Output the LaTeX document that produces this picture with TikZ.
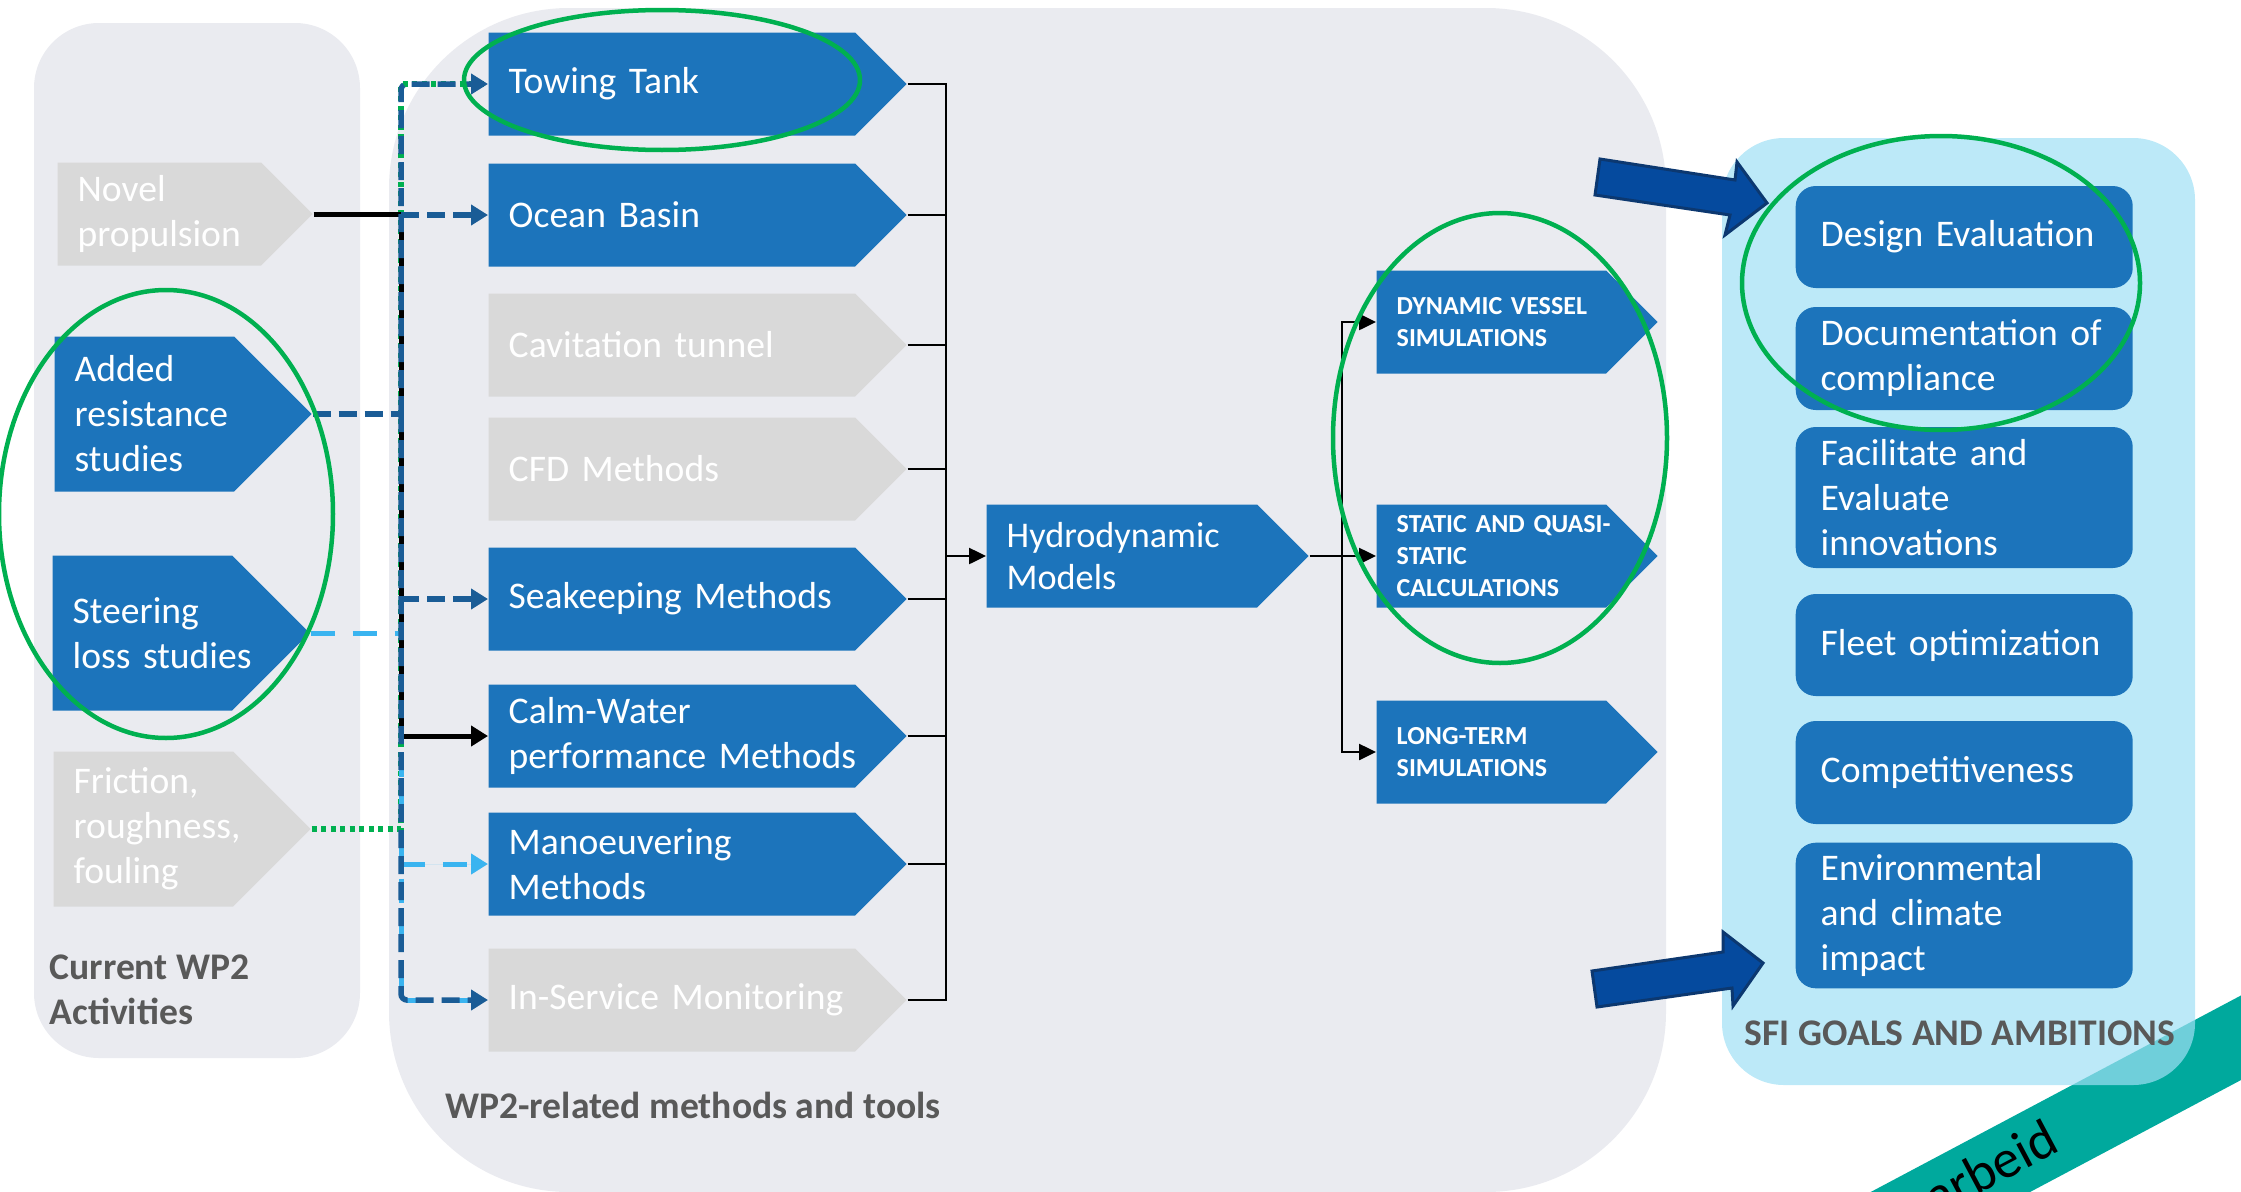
\documentclass[tikz,border=0pt]{standalone}
\usepackage{fontspec}
\setmainfont{Carlito}
\usetikzlibrary{arrows.meta,shapes.symbols,positioning}

\definecolor{boxblue}{RGB}{28,116,187}
\definecolor{boxgrey}{RGB}{217,217,217}
\definecolor{panelgrey}{RGB}{234,235,240}
\definecolor{goalpanel}{RGB}{159,224,245}
\definecolor{labelgrey}{RGB}{89,89,89}
\definecolor{ringgreen}{RGB}{0,176,80}
\definecolor{darkdash}{RGB}{26,92,150}
\definecolor{lightdash}{RGB}{58,180,240}
\definecolor{bigarrow}{RGB}{5,74,158}
\definecolor{bigarrowedge}{RGB}{12,56,112}
\definecolor{bandteal}{RGB}{0,169,157}

\hyphenpenalty=10000
\exhyphenpenalty=10000
\newcommand{\boxfont}{\fontsize{10.7}{12.8}\selectfont}
\newcommand{\hydfont}{\fontsize{10.3}{12.2}\selectfont}
\newcommand{\simfont}{\fontsize{7.4}{9}\selectfont\bfseries}

\begin{document}
\begin{tikzpicture}[x=0.1mm, y=-0.1mm,
    chev/.style={signal, signal to=east, signal pointer angle=90, anchor=west,
      fill=boxblue, text=white, align=left, inner xsep=2mm, inner ysep=0pt, font=\boxfont},
    greychev/.style={chev, fill=boxgrey},
    leftchev/.style={text width=13.95mm, minimum height=15.5mm},
    midchev/.style={text width=32.65mm, minimum height=10.3mm},
    simchev/.style={chev, text width=18.95mm, minimum height=10.3mm, font=\simfont},
    goalbox/.style={rectangle, rounded corners=2mm, anchor=west, fill=boxblue, text=white,
      align=left, minimum width=33.7mm, text width=28.7mm, inner xsep=2.5mm, font=\boxfont},
    grouplabel/.style={text=labelgrey, inner sep=0pt, font=\boxfont\bfseries},
    greenring/.style={draw=ringgreen, line width=0.45mm},
    thinflow/.style={draw=black, line width=0.25mm},
    bkflow/.style={draw=black, line width=0.5mm},
    dkflow/.style={draw=darkdash, line width=0.55mm, dash pattern=on 1.8mm off 0.8mm},
    ltflow/.style={draw=lightdash, line width=0.5mm, dash pattern=on 2.4mm off 1.8mm},
    grflow/.style={draw=ringgreen, line width=0.55mm, dash pattern=on 0.5mm off 0.45mm},
    tip/.style={-{Triangle[length=1.7mm, width=2mm]}},
    smalltip/.style={-{Triangle[length=1.7mm, width=1.6mm]}}]

\useasboundingbox (0,0) rectangle (2241,1191);

% background panels
\fill[panelgrey, rounded corners=6.5mm] (34,23) rectangle (360,1058);
\fill[panelgrey, rounded corners=18mm] (389,8) rectangle (1666,1192);
\fill[bandteal] (1703,1281) -- (2304,962) -- (2339,1028) -- (1738,1347) -- cycle;
\node[rotate=28, anchor=base east, inner sep=0pt, font=\fontsize{15.4}{18}\selectfont] (band) at (2062,1150) {arbeid};
\fill[goalpanel, opacity=0.7, rounded corners=6.2mm] (1722,138) rectangle (2195,1085);

% current activities
\node[greychev, text width=16.35mm, minimum height=10.3mm] (np) at (57,214) {Novel\\propulsion};
\node[chev, leftchev] (ars) at (54,414) {Added\\resistance\\studies};
\node[chev, leftchev] (sls) at (52,633) {Steering\\loss~studies};
\node[greychev, leftchev] (frf) at (53,829) {Friction,\\roughness,\\fouling};
\node[grouplabel, anchor=west, align=left] (cur) at (49,990) {Current WP2\\Activities};

% methods and tools
\node[chev, midchev] (tt) at (488,84) {Towing Tank};
\node[chev, midchev] (ob) at (488,215) {Ocean Basin};
\node[greychev, midchev] (cvt) at (488,345) {Cavitation tunnel};
\node[greychev, midchev] (cfd) at (488,469) {CFD Methods};
\node[chev, midchev] (skm) at (488,599) {Seakeeping Methods};
\node[chev, midchev] (cwm) at (488,736) {Calm-Water\\performance~Methods};
\node[chev, midchev] (mnv) at (488,864) {Manoeuvering\\Methods};
\node[greychev, midchev] (ism) at (488,1000) {In-Service~Monitoring};
\node[grouplabel] (rel) at (693,1105) {WP2-related methods and tools};

\node[chev, text width=23.05mm, minimum height=10.3mm, font=\hydfont] (hm) at (986,556) {Hydrodynamic\\Models};
\node[simchev] (dvs) at (1376,322) {DYNAMIC~VESSEL\\SIMULATIONS};
\node[simchev] (sqs) at (1376,556) {STATIC~AND~QUASI-\\STATIC\\CALCULATIONS};
\node[simchev] (lts) at (1376,752) {LONG-TERM\\SIMULATIONS};

% goals
\node[goalbox, minimum height=10.2mm] (de) at (1795,237) {Design Evaluation};
\node[goalbox, minimum height=10.3mm] (doc) at (1795,358.5) {Documentation~of\\compliance};
\node[goalbox, minimum height=14.1mm] (fei) at (1795,497.5) {Facilitate and\\Evaluate\\innovations};
\node[goalbox, minimum height=10.2mm] (fo) at (1795,645) {Fleet~optimization};
\node[goalbox, minimum height=10.3mm] (cmp) at (1795,772.5) {Competitiveness};
\node[goalbox, minimum height=13.7mm] (eci) at (1795,915.5) {Environmental\\and climate\\impact};
\node[grouplabel] (sfi) at (1960,1033) {SFI GOALS AND AMBITIONS};

\fill[bigarrow, draw=bigarrowedge, line width=0.3mm] (1600,159) -- (1735,180) -- (1737,162) -- (1767,203)
  -- (1725,235) -- (1730,215) -- (1595,195) -- cycle;
\fill[bigarrow, draw=bigarrowedge, line width=0.3mm] (1592,971) -- (1723,952) -- (1723,932) -- (1763,963)
  -- (1733,1006) -- (1732,988) -- (1597,1007) -- cycle;

% activity links
\coordinate (busL) at (401,556);
\draw[grflow] (frf.east) -- (frf.east -| busL) |- (tt.west);
\draw[ltflow] (sls.east) -- (sls.east -| busL) |- (ism.west);
\draw[ltflow, fill=lightdash, tip] (busL |- mnv.west) -- (mnv.west);
\draw[bkflow, tip] (np.east) -- (np.east -| busL) |- (cwm.west);
\draw[dkflow] (ars.east) -- (ars.east -| busL);
\draw[dkflow, tip, rounded corners=0.6mm] (ars.east -| busL) |- (tt.west);
\draw[dkflow, tip, rounded corners=0.6mm] (ars.east -| busL) |- (ism.west);
\draw[dkflow, tip] (busL |- ob.west) -- (ob.west);
\draw[dkflow, tip] (busL |- skm.west) -- (skm.west);

% method links
\coordinate (busR) at (946,556);
\coordinate (busS) at (1342,556);
\draw[thinflow] (tt.east) -| (busR);
\draw[thinflow] (ism.east) -| (busR);
\draw[thinflow] (ob.east) -- (ob.east -| busR);
\draw[thinflow] (cvt.east) -- (cvt.east -| busR);
\draw[thinflow] (cfd.east) -- (cfd.east -| busR);
\draw[thinflow] (skm.east) -- (skm.east -| busR);
\draw[thinflow] (cwm.east) -- (cwm.east -| busR);
\draw[thinflow] (mnv.east) -- (mnv.east -| busR);
\draw[thinflow, smalltip] (busR) -- (hm.west);
\draw[thinflow] (hm.east) -- (busS);
\draw[thinflow, smalltip] (busS) |- (dvs.west);
\draw[thinflow, smalltip] (busS) -- (sqs.west);
\draw[thinflow, smalltip] (busS) |- (lts.west);

% highlighted groups
\draw[greenring] (662,80) ellipse [x radius=19.8mm, y radius=7mm];
\draw[greenring] (166,514) ellipse [x radius=16.7mm, y radius=22.4mm];
\draw[greenring] (1500,438) ellipse [x radius=16.7mm, y radius=22.5mm];
\draw[greenring] (1941,283) ellipse [x radius=19.9mm, y radius=14.7mm];
\end{tikzpicture}
\end{document}
